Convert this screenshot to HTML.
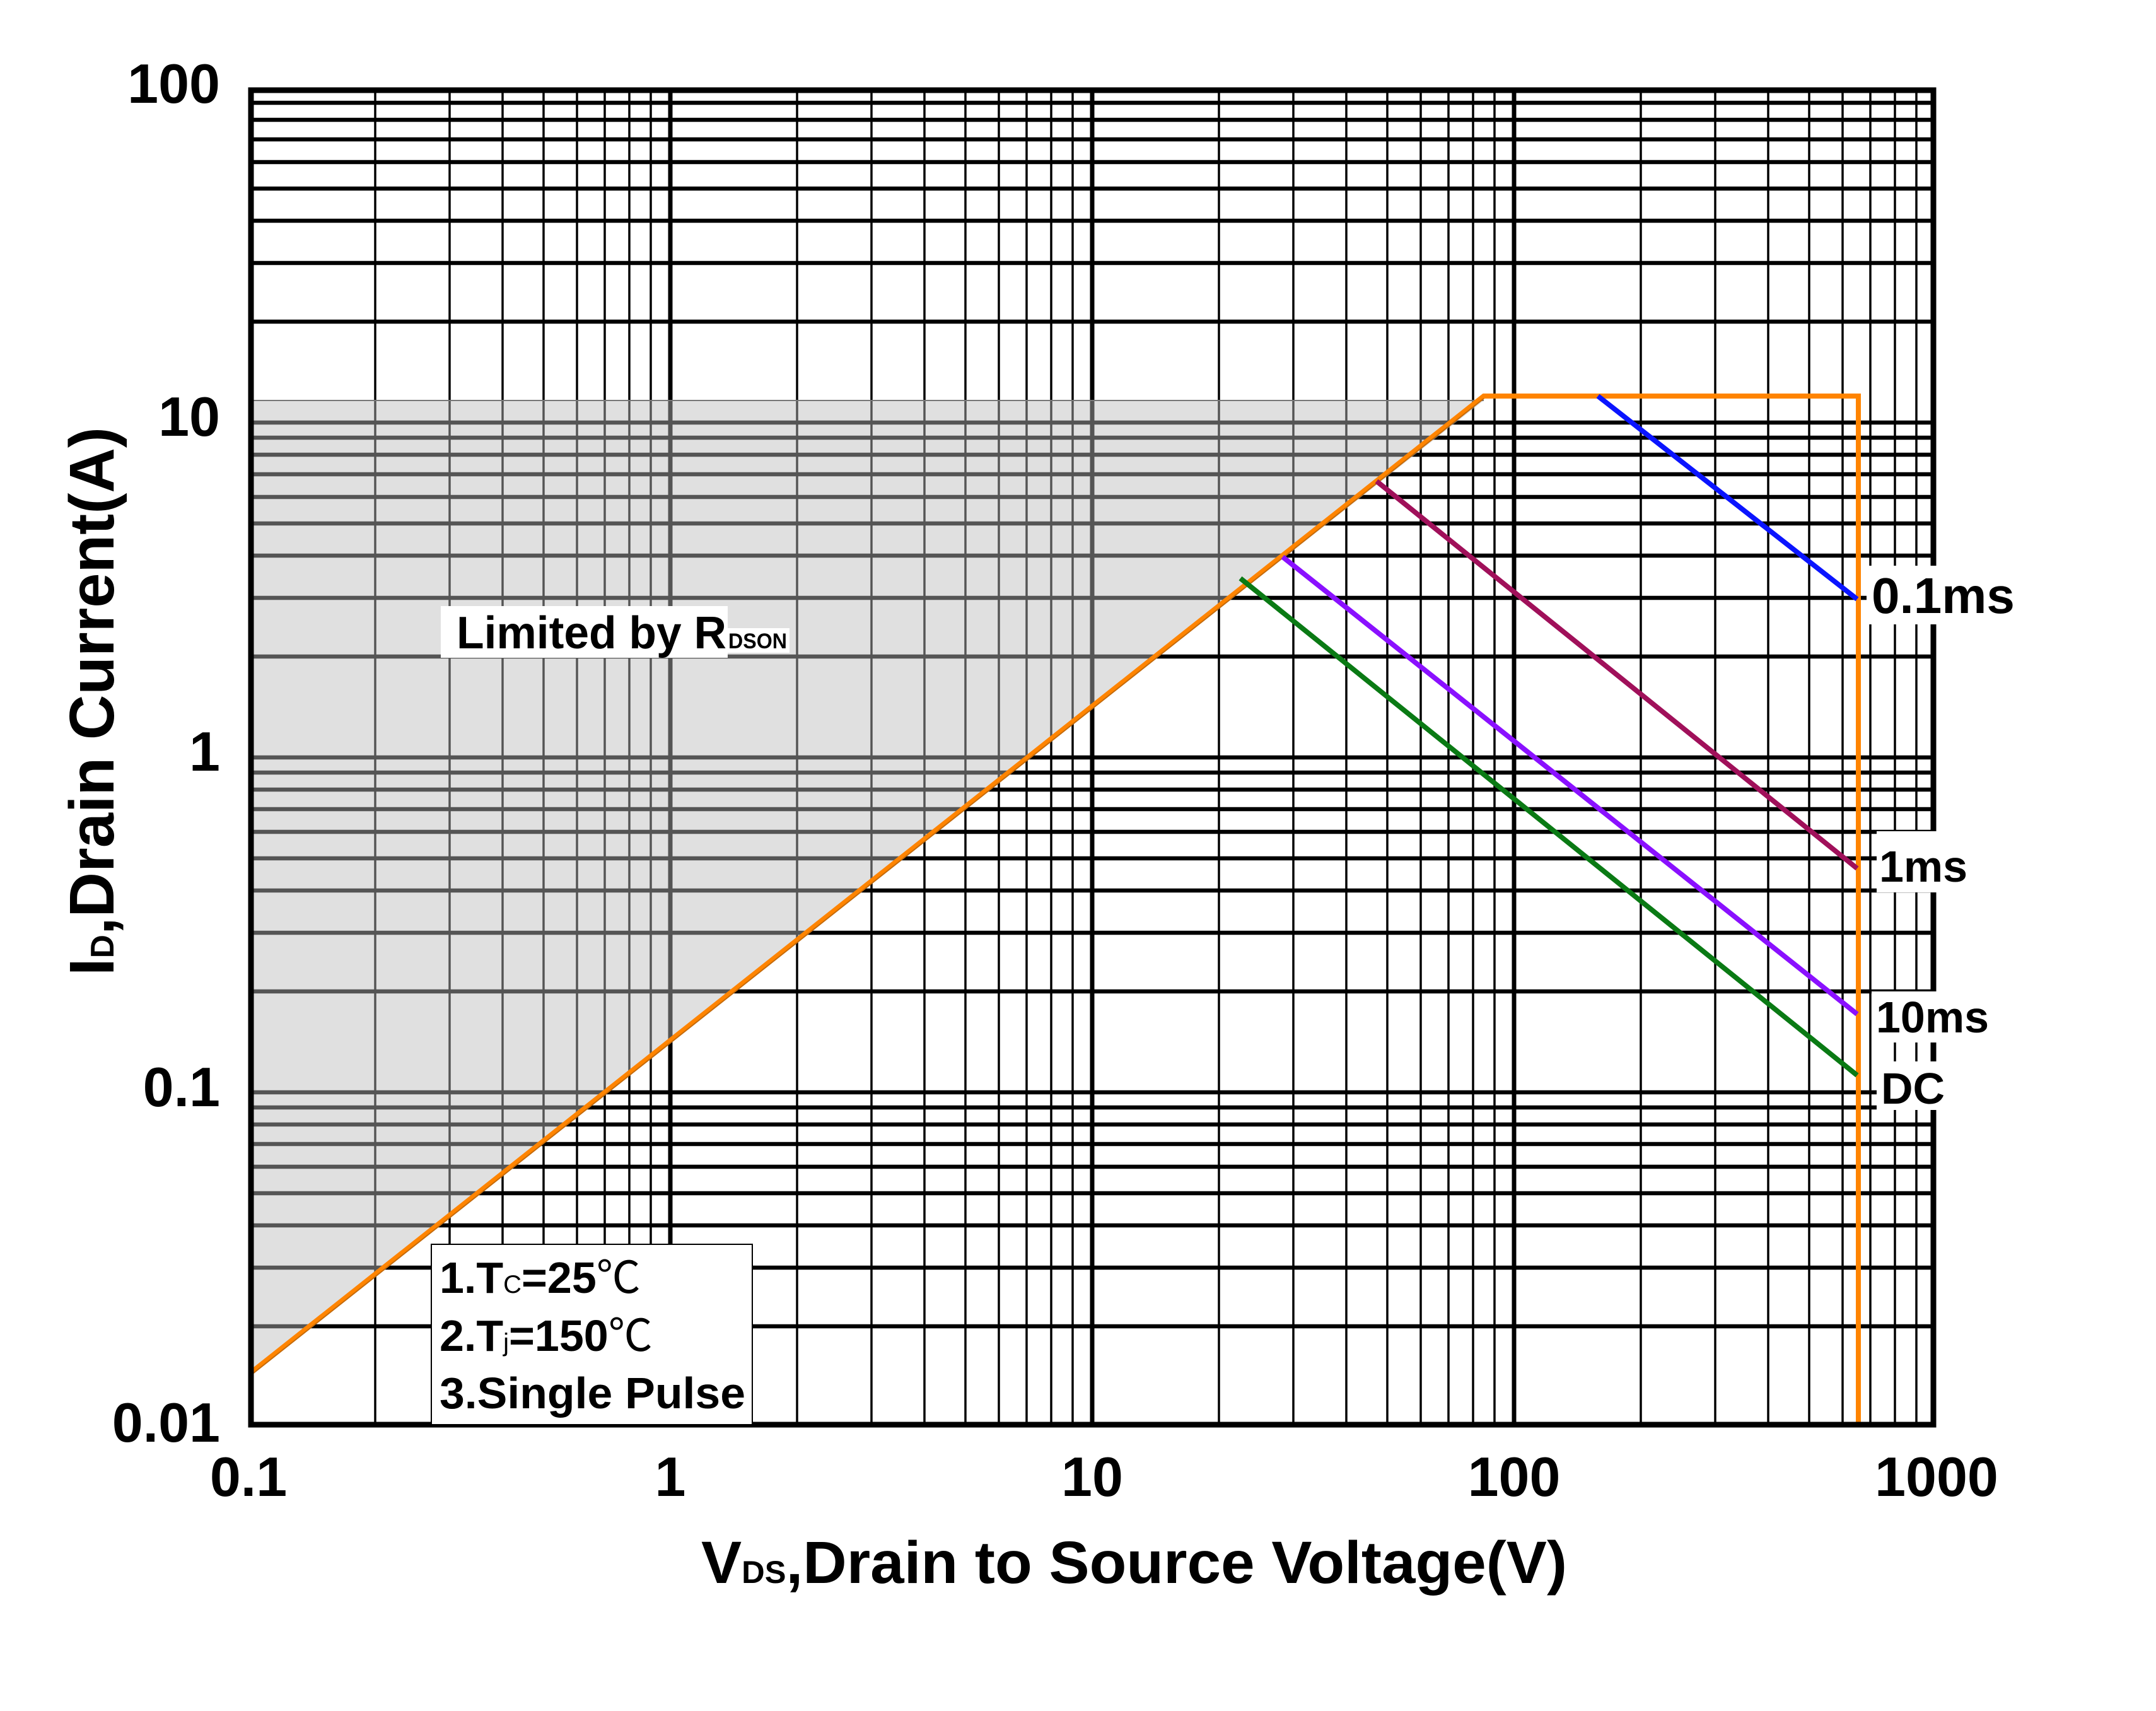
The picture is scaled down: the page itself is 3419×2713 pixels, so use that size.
<!DOCTYPE html>
<html><head><meta charset="utf-8"><style>
html,body{margin:0;padding:0;background:#fff;}
svg{display:block;}
text{font-family:"Liberation Sans","Noto Sans CJK SC",sans-serif;font-weight:bold;fill:#000;}
</style></head><body>
<svg width="3419" height="2713" viewBox="0 0 3419 2713" xmlns="http://www.w3.org/2000/svg">
<rect width="3419" height="2713" fill="#fff"/>
<path stroke="#000" stroke-width="3.5" fill="none" d="
M595 139V2263M713 139V2263M797 139V2263M862 139V2263M915 139V2263M959 139V2263M998 139V2263M1032 139V2263
M1264 139V2263M1382 139V2263M1466 139V2263M1531 139V2263M1584 139V2263M1628 139V2263M1667 139V2263M1701 139V2263
M1933 139V2263M2051 139V2263M2135 139V2263M2200 139V2263M2253 139V2263M2297 139V2263M2336 139V2263M2370 139V2263
M2602 139V2263M2720 139V2263M2804 139V2263M2869 139V2263M2922 139V2263M2966 139V2263M3005 139V2263M3039 139V2263"/>
<path stroke="#000" stroke-width="7" fill="none" d="M1063 139V2263M1732 139V2263M2401 139V2263"/>
<path stroke="#000" stroke-width="6.5" fill="none" d="
M394 2103H3070M394 2010H3070M394 1943H3070M394 1892H3070M394 1850H3070M394 1814H3070M394 1783H3070M394 1756H3070
M394 1732H3070M394 1572H3070M394 1479H3070M394 1412H3070M394 1361H3070M394 1319H3070M394 1283H3070M394 1252H3070M394 1225H3070
M394 1201H3070M394 1041H3070M394 948H3070M394 881H3070M394 830H3070M394 788H3070M394 752H3070M394 721H3070M394 694H3070
M394 670H3070M394 510H3070M394 417H3070M394 350H3070M394 299H3070M394 257H3070M394 221H3070M394 190H3070M394 163H3070"/>
<polygon points="394,2178 394,635 2353,635" fill="rgb(187,187,187)" fill-opacity="0.455"/>
<line x1="394" y1="635" x2="2353" y2="635" stroke="#777" stroke-width="2"/>
<polyline points="396,2178 2353,628 2947,628 2947,2263" fill="none" stroke="#ff8400" stroke-width="8" stroke-linejoin="miter"/>
<line x1="396" y1="2182" x2="2353" y2="632" stroke="#a05a10" stroke-width="2" opacity="0.6"/>
<line x1="2534" y1="628" x2="2945" y2="950" stroke="#0a14ff" stroke-width="8"/>
<line x1="2183" y1="763" x2="2945" y2="1377" stroke="#a0105a" stroke-width="8"/>
<line x1="2034" y1="883" x2="2945" y2="1608" stroke="#8a10ff" stroke-width="8"/>
<line x1="1967" y1="917" x2="2945" y2="1705" stroke="#0a7a14" stroke-width="8"/>
<rect x="398" y="143" width="2668" height="2116" fill="none" stroke="#000" stroke-width="9"/>
<rect x="2960" y="897" width="240" height="93" fill="#fff"/>
<text x="2968" y="972" font-size="80">0.1ms</text>
<rect x="2976" y="1318" width="150" height="97" fill="#fff"/>
<text x="2980" y="1398" font-size="70">1ms</text>
<rect x="2968" y="1572" width="190" height="81" fill="#fff"/>
<text x="2975" y="1637" font-size="70">10ms</text>
<rect x="2976" y="1683" width="110" height="77" fill="#fff"/>
<text x="2983" y="1750" font-size="70">DC</text>
<rect x="699" y="961" width="455" height="82" fill="#fff"/>
<rect x="1154" y="996" width="98" height="39" fill="#fff"/>
<text x="724" y="1028" font-size="72" textLength="428" lengthAdjust="spacingAndGlyphs">Limited by R</text>
<text x="1155" y="1028" font-size="34" textLength="93" lengthAdjust="spacingAndGlyphs">DSON</text>
<rect x="684" y="1973" width="509" height="286" fill="#fff" stroke="#000" stroke-width="2"/>
<text x="697" y="2050" font-size="70">1.T<tspan font-size="40" font-weight="normal">C</tspan>=25<tspan font-weight="normal">℃</tspan></text>
<text x="697" y="2142" font-size="70">2.T<tspan font-size="40" font-weight="normal">j</tspan>=150<tspan font-weight="normal">℃</tspan></text>
<text x="697" y="2233" font-size="70" textLength="485" lengthAdjust="spacingAndGlyphs">3.Single Pulse</text>
<g font-size="88" text-anchor="end">
<text x="349" y="163">100</text>
<text x="349" y="691">10</text>
<text x="349" y="1222">1</text>
<text x="349" y="1754">0.1</text>
<text x="349" y="2286">0.01</text>
</g>
<g font-size="88" text-anchor="middle">
<text x="394" y="2372">0.1</text>
<text x="1063" y="2372">1</text>
<text x="1732" y="2372">10</text>
<text x="2401" y="2372">100</text>
<text x="3071" y="2372">1000</text>
</g>
<text x="1112" y="2510" font-size="95" textLength="1373" lengthAdjust="spacingAndGlyphs">V<tspan font-size="50">DS</tspan>,Drain to Source Voltage(V)</text>
<text transform="translate(180,1547) rotate(-90)" font-size="100" textLength="870" lengthAdjust="spacingAndGlyphs">I<tspan font-size="52">D</tspan>,Drain Current(A)</text>
</svg>
</body></html>
